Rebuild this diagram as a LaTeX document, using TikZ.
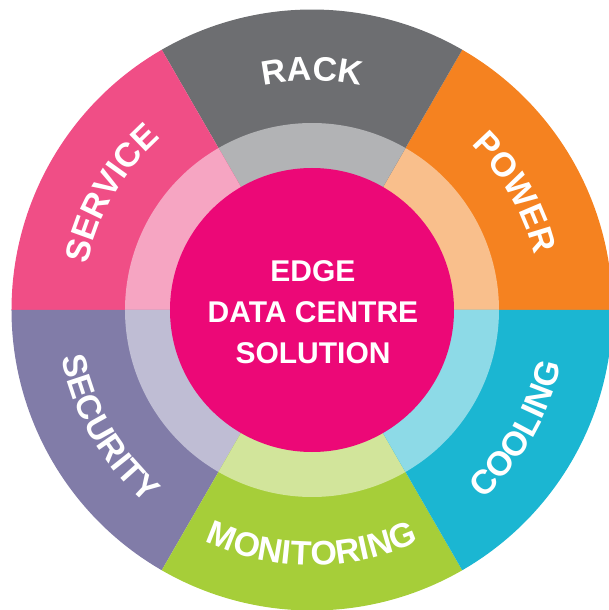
\documentclass[tikz,border=0pt]{standalone}
\usepackage{fontspec}
\setmainfont{Liberation Sans}
\usetikzlibrary{decorations.text}
\definecolor{rackD}{HTML}{6D6E71}\definecolor{rackL}{HTML}{B2B3B5}
\definecolor{powerD}{HTML}{F58220}\definecolor{powerL}{HTML}{F9BF8C}
\definecolor{coolD}{HTML}{1BB6D2}\definecolor{coolL}{HTML}{8DDAE7}
\definecolor{monD}{HTML}{A6CE39}\definecolor{monL}{HTML}{D2E59B}
\definecolor{secD}{HTML}{817CA8}\definecolor{secL}{HTML}{BFBDD4}
\definecolor{servD}{HTML}{F04E86}\definecolor{servL}{HTML}{F6A5C2}
\definecolor{hub}{HTML}{EC0877}
\tikzset{
  toplabel/.style={decorate, decoration={text along path, text color=white,
      text align=center, text={|\bfseries\fontsize{34}{34}\selectfont|#1}}},
}
\begin{document}
\begin{tikzpicture}[x=1pt,y=1pt]
\useasboundingbox (-312,-300) rectangle (296,310);
% outer wedges and inner ring wedges
\foreach \a/\d/\l in {0/powerD/powerL, 60/rackD/rackL, 120/servD/servL,
                      180/secD/secL, 240/monD/monL, 300/coolD/coolL}{
  \fill[\d] (0,0) -- (\a:300.5) arc[start angle=\a, end angle=\a+60, radius=300.5] -- cycle;
  \fill[\l] (0,0) -- (\a:187) arc[start angle=\a, end angle=\a+60, radius=187] -- cycle;
}
% centre
\fill[hub] (0,0) circle[radius=142];
\node[align=center, text=white, font=\bfseries\fontsize{30}{40.7}\selectfont] (hubtext) at (1,-2) {EDGE\\DATA CENTRE\\SOLUTION};
% labels, upper half (clockwise, tops outward)
\path[toplabel=SERVICE] (180:229) arc[start angle=180, end angle=120, radius=229];
\path[toplabel=RACK] (120:229) arc[start angle=120, end angle=60, radius=229];
\path[toplabel=POWER] (60:229) arc[start angle=60, end angle=0, radius=229];
% labels, lower half (counter-clockwise, tops inward)
\path[toplabel=SECURITY] (180:255) arc[start angle=180, end angle=240, radius=255];
\path[toplabel=MONITORING] (240:255) arc[start angle=240, end angle=300, radius=255];
\path[toplabel=COOLING] (300:255) arc[start angle=300, end angle=360, radius=255];
\end{tikzpicture}
\end{document}
